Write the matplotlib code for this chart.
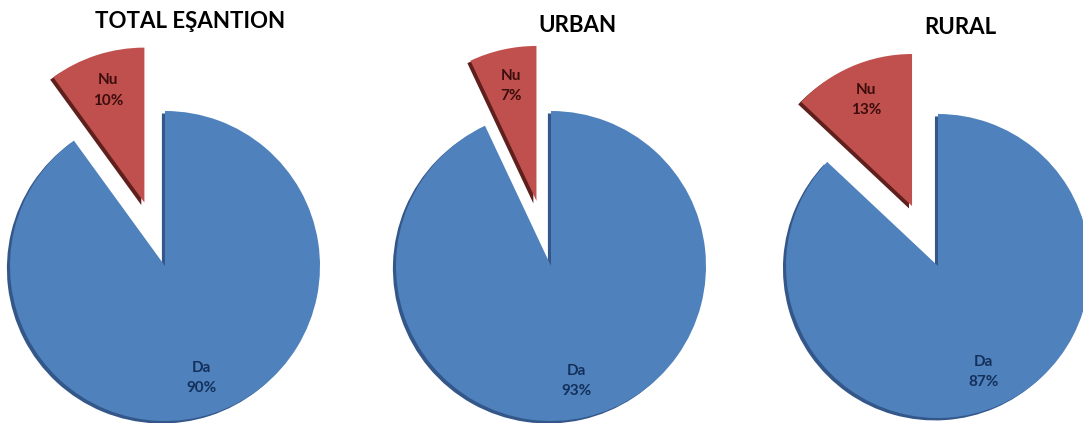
import matplotlib
matplotlib.use('Agg')
import matplotlib.pyplot as plt

# data
titles = ['TOTAL EŞANTION', 'URBAN', 'RURAL']
categories = ['Nu', 'Da']
nu_pct = [10, 7, 13]
da_pct = [90, 93, 87]

colors = ['#C0504D', '#4F81BD']
shadow_colors = ['#5e1f1d', '#34578a']
label_colors = ['#3b0d0c', '#14305a']

W, H = 1083, 423
fig = plt.figure(figsize=(W / 100, H / 100), dpi=100)
fig.patch.set_facecolor('white')

# pixel layout of each pie (center x, center y from top, radius)
centers = [(165, 266), (551, 266), (938, 266)]
radii = [155, 155, 152]
title_x = [190, 577, 960]
title_y = [22, 25, 27]
ext = 1.6

for i in range(3):
    cx, cy, r = centers[i][0], centers[i][1], radii[i]
    size = 2 * ext * r
    ax = fig.add_axes([(cx - ext * r) / W, ((H - cy) - ext * r) / H, size / W, size / H])

    vals = [nu_pct[i], da_pct[i]]
    explode = [0.43, 0]

    # darker copy underneath for the bevel / 3D edge
    ax.pie(vals, explode=explode, startangle=90, colors=shadow_colors,
           center=(-0.02, -0.016), radius=1.0,
           wedgeprops={'linewidth': 0})

    names = iter(categories)
    wedges, texts, autotexts = ax.pie(
        vals, explode=explode, startangle=90, colors=colors, radius=1.0,
        autopct=lambda p: f'{next(names)}\n{p:.0f}%', pctdistance=0.76,
        wedgeprops={'linewidth': 0},
        textprops={'fontsize': 11, 'fontweight': 'bold', 'family': 'Lato',
                   'linespacing': 1.6})
    for t, c in zip(autotexts, label_colors):
        t.set_color(c)

    # pie() resets the limits, so set them afterwards
    ax.set_xlim(-ext, ext)
    ax.set_ylim(-ext, ext)
    ax.set_aspect('equal')
    ax.axis('off')

    fig.text(title_x[i] / W, 1 - title_y[i] / H, titles[i], ha='center', va='center',
             fontsize=16, fontweight='bold', family='Lato', color='black')

fig.savefig('out.png', dpi=100, facecolor='white')
